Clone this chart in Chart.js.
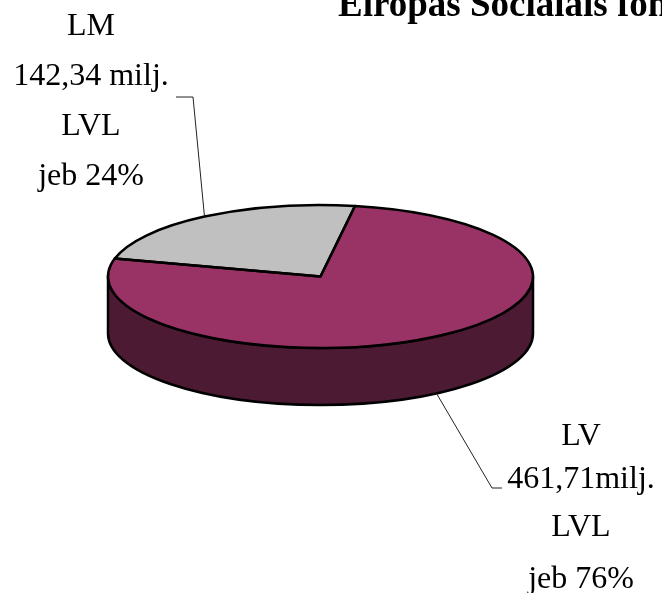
<!DOCTYPE html>
<html>
<head>
<meta charset="utf-8">
<script src="https://cdn.jsdelivr.net/npm/chart.js@4.4.1/dist/chart.umd.min.js"></script>
<style>
  html, body { margin: 0; padding: 0; background: #ffffff; }
  #wrap { width: 662px; height: 593px; position: relative; }
</style>
</head>
<body>
<div id="wrap"><canvas id="c" width="662" height="593"></canvas></div>
<script>
// ---- data ----
const categories = ['LM', 'LV'];
const values = [142.34, 461.71];            // milj. LVL
const percents = ['24%', '76%'];
const labelLines = [
  ['LM', '142,34 milj.', 'LVL', 'jeb 24%'],
  ['LV', '461,71milj.', 'LVL', 'jeb 76%']
];
const titleText = 'Eiropas Sociālais fonds';

// ---- styles ----
const topColors = ['#C0C0C0', '#993366'];
const sideColors = ['#606060', '#4C1A33'];
const TILT = 71.5 / 212.5;   // vertical squash of the pie
const DEPTH = 57;            // thickness of the pie
const FONT = "'Liberation Serif', 'Times New Roman', serif";

// label layout: center x, baselines, leader elbow & end
const labelLayout = [
  { x: 91, ys: [35, 85, 135, 185], elbow: [193, 97], end: [176, 97], onSide: false },
  { x: 581, ys: [445, 488, 536, 588], elbow: [492, 488], end: [502, 488], onSide: true }
];

const pie3d = {
  id: 'pie3d',
  beforeDatasetsDraw(chart) {
    const ctx = chart.ctx;
    const arcs = chart.getDatasetMeta(0).data;
    const cx = arcs[0].x, cy = arcs[0].y, r = arcs[0].outerRadius, ry = r * TILT;
    ctx.save();
    ctx.lineWidth = 2.5;
    ctx.strokeStyle = '#000';
    ctx.lineJoin = 'round';
    arcs.forEach((arc, i) => {
      const s = arc.startAngle, e = arc.endAngle;
      for (let k = -1; k <= 1; k++) {
        const lo = Math.max(s, 2 * Math.PI * k);
        const hi = Math.min(e, 2 * Math.PI * k + Math.PI);
        if (hi > lo) {
          ctx.beginPath();
          ctx.ellipse(cx, cy, r, ry, 0, lo, hi, false);
          ctx.ellipse(cx, cy + DEPTH, r, ry, 0, hi, lo, true);
          ctx.closePath();
          ctx.fillStyle = sideColors[i];
          ctx.fill();
          ctx.stroke();
        }
      }
    });
    ctx.restore();
    ctx.save();
    ctx.translate(cx, cy);
    ctx.scale(1, TILT);
    ctx.translate(-cx, -cy);
  },
  afterDatasetsDraw(chart) {
    const ctx = chart.ctx;
    ctx.restore();
    const arcs = chart.getDatasetMeta(0).data;
    const cx = arcs[0].x, cy = arcs[0].y, r = arcs[0].outerRadius, ry = r * TILT;
    ctx.save();
    ctx.lineWidth = 2.5;
    ctx.strokeStyle = '#000';
    ctx.lineJoin = 'round';
    arcs.forEach((arc) => {
      ctx.beginPath();
      ctx.moveTo(cx, cy);
      ctx.lineTo(cx + r * Math.cos(arc.startAngle), cy + ry * Math.sin(arc.startAngle));
      ctx.ellipse(cx, cy, r, ry, 0, arc.startAngle, arc.endAngle, false);
      ctx.closePath();
      ctx.stroke();
    });
    ctx.lineWidth = 1;
    ctx.strokeStyle = '#222';
    arcs.forEach((arc, i) => {
      const mid = (arc.startAngle + arc.endAngle) / 2;
      const L = labelLayout[i];
      const ax = cx + r * Math.cos(mid);
      const ay = cy + ry * Math.sin(mid) + (L.onSide ? DEPTH : 0);
      ctx.beginPath();
      ctx.moveTo(ax, ay);
      ctx.lineTo(L.elbow[0], L.elbow[1]);
      ctx.lineTo(L.end[0], L.end[1]);
      ctx.stroke();
    });
    ctx.restore();
  },
  afterDraw(chart) {
    const ctx = chart.ctx;
    ctx.save();
    ctx.fillStyle = '#000';
    ctx.textAlign = 'center';
    ctx.textBaseline = 'alphabetic';
    ctx.font = '32px ' + FONT;
    labelLines.forEach((lines, i) => {
      const L = labelLayout[i];
      lines.forEach((t, j) => ctx.fillText(t, L.x, L.ys[j]));
    });
    ctx.textAlign = 'left';
    ctx.font = 'bold 37px ' + FONT;
    ctx.fillText(titleText, 338, 16);
    ctx.restore();
  }
};

new Chart(document.getElementById('c'), {
  type: 'pie',
  data: {
    labels: categories,
    datasets: [{
      data: values,
      backgroundColor: topColors,
      borderWidth: 0,
      clip: false
    }]
  },
  options: {
    responsive: false,
    animation: false,
    rotation: -75.5,
    radius: 212.5,
    events: [],
    layout: { padding: { left: 0, right: 21, top: 0, bottom: 40 } },
    plugins: {
      legend: { display: false },
      tooltip: { enabled: false },
      title: { display: false }
    }
  },
  plugins: [pie3d]
});
</script>
</body>
</html>
